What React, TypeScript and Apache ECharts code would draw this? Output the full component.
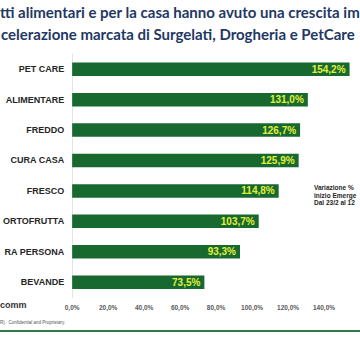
import React, { useEffect, useRef } from "react";
import * as echarts from "echarts";

const categories = ["PET CARE", "ALIMENTARE", "FREDDO", "CURA CASA", "FRESCO", "ORTOFRUTTA", "RA PERSONA", "BEVANDE"];
const values = [154.2, 131.0, 126.7, 125.9, 114.8, 103.7, 93.3, 73.5];
const titleLines = [
  "tti alimentari e per la casa hanno avuto una crescita im",
  "celerazione marcata di Surgelati, Drogheria e PetCare",
];
const noteLines = ["Variazione %", "inizio Emerge", "Dal 23/2 al 12"];
const footerBrand = "comm";
const footerNote = "R).  Confidential and Proprietary.";

const fmt = (v: number) => v.toFixed(1).replace(".", ",") + "%";

export default function App() {
  const ref = useRef<HTMLDivElement>(null);
  useEffect(() => {
    if (!ref.current) return;
    const chart = echarts.init(ref.current, null, { renderer: "svg" });
    chart.setOption({
      animation: false,
      backgroundColor: "#ffffff",
      grid: { left: 70, top: 54, width: 295.4, height: 243.4, containLabel: false },
      xAxis: {
        type: "value",
        min: 0,
        max: 160,
        interval: 20,
        splitLine: { show: false },
        axisLine: { show: false },
        axisTick: { show: false },
        axisLabel: {
          formatter: (v: number) => fmt(v),
          fontSize: 6.5,
          fontWeight: "bold",
          color: "#595959",
          fontFamily: "Liberation Sans, Arial, sans-serif",
          margin: 7,
          showMaxLabel: false,
        },
      },
      yAxis: {
        type: "category",
        data: categories,
        inverse: true,
        axisLine: { show: true, lineStyle: { color: "#e3e3e3", width: 1 } },
        axisTick: { show: false },
        axisLabel: {
          fontSize: 9,
          fontWeight: "bold",
          color: "#262626",
          fontFamily: "Liberation Sans, Arial, sans-serif",
          margin: 8,
        },
      },
      series: [
        {
          type: "bar",
          data: values,
          barWidth: 13.5,
          itemStyle: { color: "#17692f" },
          label: {
            show: true,
            position: "insideRight",
            distance: 4,
            formatter: (p: any) => fmt(p.value),
            color: "#e2f03c",
            fontSize: 10,
            fontWeight: "bold",
            fontFamily: "Liberation Sans, Arial, sans-serif",
          },
        },
      ],
      graphic: [
        ...titleLines.map((t, i) => ({
          type: "text",
          left: i === 0 ? 0 : 1,
          top: i === 0 ? 4 : 26,
          style: {
            text: t,
            fontSize: 15,
            fontWeight: "bold",
            fill: "#1f3864",
            fontFamily: "Lato, Noto Sans, sans-serif",
          },
        })),
        ...noteLines.map((t, i) => ({
          type: "text",
          left: 314,
          top: 184 + i * 7.6,
          style: {
            text: t,
            fontSize: 6.5,
            fontWeight: "bold",
            fill: "#262626",
            fontFamily: "Liberation Sans, Arial, sans-serif",
          },
        })),
        {
          type: "text",
          left: 0,
          top: 300,
          style: {
            text: footerBrand,
            fontSize: 9,
            fontWeight: "bold",
            fill: "#333333",
            fontFamily: "Liberation Sans, Arial, sans-serif",
          },
        },
        {
          type: "text",
          left: 0,
          top: 319.5,
          style: {
            text: footerNote,
            fontSize: 4.5,
            fill: "#555555",
            fontFamily: "Liberation Sans, Arial, sans-serif",
          },
        },
        {
          type: "line",
          shape: { x1: 0, y1: 331, x2: 360, y2: 331 },
          style: { stroke: "#2f7a47", lineWidth: 2 },
        },
      ],
    });
    return () => chart.dispose();
  }, []);
  return (
    <div
      ref={ref}
      style={{ position: "absolute", left: 0, top: 0, width: 360, height: 360 }}
    />
  );
}
